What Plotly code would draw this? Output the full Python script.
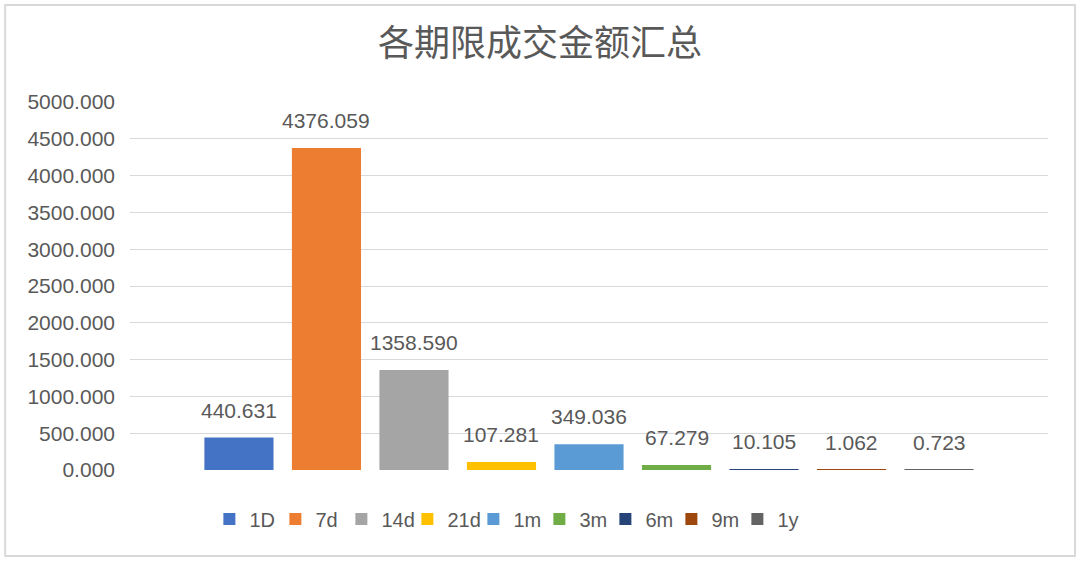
import plotly.graph_objects as go

# data
series = ["1D", "7d", "14d", "21d", "1m", "3m", "6m", "9m", "1y"]
values = [440.631, 4376.059, 1358.590, 107.281, 349.036, 67.279, 10.105, 1.062, 0.723]
colors = ["#4472C4", "#ED7D31", "#A5A5A5", "#FFC000", "#5B9BD5",
          "#70AD47", "#264478", "#9E480E", "#636363"]
y_ticks = [0, 500, 1000, 1500, 2000, 2500, 3000, 3500, 4000, 4500, 5000]

title_text = "各期限成交金额汇总"
txt_col = "#595959"
num_font = "Liberation Sans, Noto Sans CJK SC"

fig = go.Figure()
for name, val, col in zip(series, values, colors):
    fig.add_trace(go.Bar(x=[name], y=[val], name=name, marker_color=col,
                         marker_line_width=0))

# value labels above bars
for name, val in zip(series, values):
    fig.add_annotation(x=name, y=val, text=f"{val:.3f}", showarrow=False,
                       yanchor="bottom", yshift=14,
                       font=dict(family=num_font, size=21, color=txt_col))

# light border round the whole chart
fig.add_shape(type="rect", xref="paper", yref="paper",
              x0=-0.136, x1=1.0294, y0=-0.2337, y1=1.2636,
              line=dict(color="#d9d9d9", width=2), layer="below")

fig.update_layout(
    width=1080, height=561,
    margin=dict(l=130, r=32, t=102, b=91),
    paper_bgcolor="white", plot_bgcolor="white",
    barmode="overlay", bargap=0.21,
    title=dict(text=title_text, x=0.5, xanchor="center", y=0.923, yanchor="middle",
               font=dict(family="Noto Sans CJK SC", size=36, color=txt_col)),
    showlegend=True,
    legend=dict(orientation="h", x=0.41, xanchor="center", y=-0.133, yanchor="middle",
                font=dict(family=num_font, size=20, color=txt_col),
                itemwidth=30, entrywidth=21, traceorder="normal"),
    xaxis=dict(type="category", categoryorder="array", categoryarray=series,
               range=[-1.245, 9.245], showticklabels=False, ticks="",
               showgrid=False, zeroline=False, showline=False),
    yaxis=dict(range=[0, 5000], tickvals=y_ticks, tickformat=".3f",
               showgrid=True, gridcolor="#d9d9d9", gridwidth=1,
               zeroline=False, showline=False, ticks="",
               ticklabelstandoff=14,
               tickfont=dict(family=num_font, size=21, color=txt_col)),
)

# page body has a default 8px margin, drop it so the chart sits at 0,0
fig.write_html("out.html", config={"displayModeBar": False},
               post_script="document.body.style.margin='0';")
